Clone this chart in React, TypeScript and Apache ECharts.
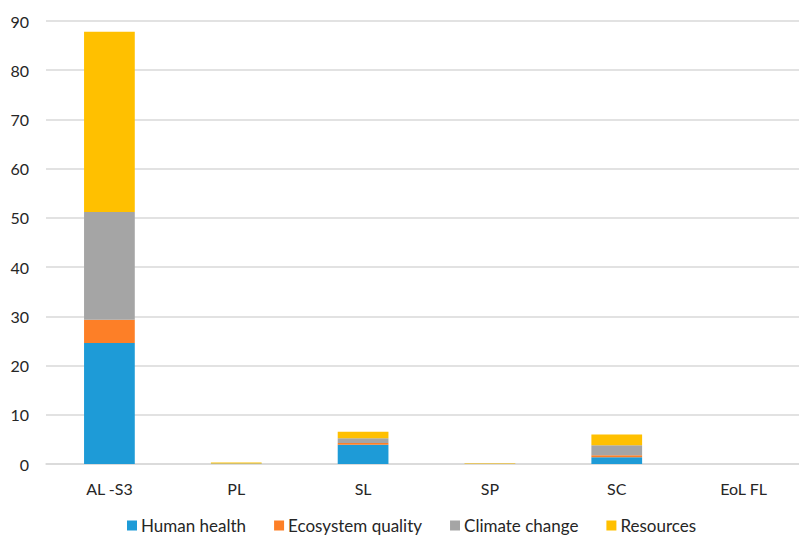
import React, { useEffect, useRef } from "react";
import * as echarts from "echarts";

const categories = ["AL -S3", "PL", "SL", "SP", "SC", "EoL FL"];
const humanHealth = [24.6, 0.03, 3.9, 0.02, 1.35, 0.005];
const ecosystemQuality = [4.7, 0.01, 0.35, 0.005, 0.45, 0.002];
const climateChange = [21.9, 0.05, 1.0, 0.03, 2.0, 0.005];
const resources = [36.6, 0.2, 1.3, 0.08, 2.2, 0.005];
const yTicks = { min: 0, max: 90, interval: 10 };

const FONT = "Lato, 'Liberation Sans', sans-serif";
const TEXT = "#262626";

export default function App() {
  const ref = useRef<HTMLDivElement>(null);
  useEffect(() => {
    if (!ref.current) return;
    const chart = echarts.init(ref.current, null, { renderer: "svg" });
    const mk = (name: string, data: number[], color: string) => ({
      name,
      type: "bar",
      stack: "total",
      data,
      barWidth: "40%",
      itemStyle: { color },
    });
    chart.setOption({
      animation: false,
      textStyle: { fontFamily: FONT },
      grid: { left: 46, right: 0, top: 21, bottom: 71, containLabel: false },
      legend: {
        top: 517,
        left: 122,
        width: 720,
        padding: [0, 5],
        orient: "horizontal",
        itemWidth: 10,
        itemHeight: 10,
        itemGap: 28,
        icon: "rect",
        textStyle: { fontFamily: FONT, fontSize: 17, color: TEXT, padding: [0, 0, 0, -1] },
        data: ["Human health", "Ecosystem quality", "Climate change", "Resources"],
      },
      xAxis: {
        type: "category",
        data: categories,
        axisLine: { lineStyle: { color: "#d9d9d9", width: 1.5 } },
        axisTick: { show: false },
        axisLabel: { color: TEXT, fontSize: 16, margin: 16, fontFamily: FONT },
      },
      yAxis: {
        type: "value",
        min: yTicks.min,
        max: yTicks.max,
        interval: yTicks.interval,
        axisLine: { show: false },
        axisTick: { show: false },
        splitLine: { lineStyle: { color: "#d9d9d9", width: 1.5 } },
        axisLabel: { color: TEXT, fontSize: 16, margin: 17, fontFamily: FONT },
      },
      series: [
        mk("Human health", humanHealth, "#1e9bd7"),
        mk("Ecosystem quality", ecosystemQuality, "#fd7f27"),
        mk("Climate change", climateChange, "#a5a5a5"),
        mk("Resources", resources, "#ffc000"),
      ],
    });
    return () => chart.dispose();
  }, []);
  return (
    <div style={{ position: "fixed", left: 0, top: 0, width: 799, height: 535, overflow: "hidden", background: "#fff" }}>
      <div ref={ref} style={{ width: 807, height: 535 }} />
    </div>
  );
}
